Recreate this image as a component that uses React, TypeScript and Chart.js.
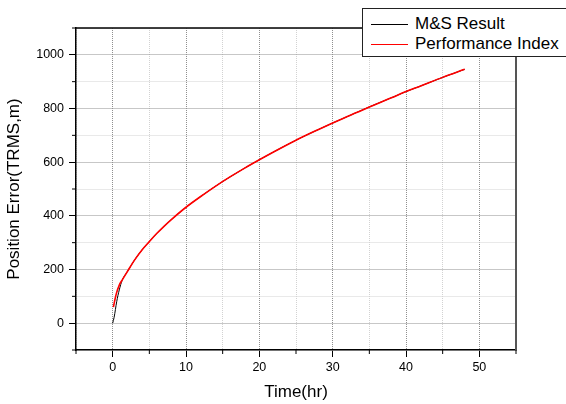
import React, { useEffect, useRef } from "react";
import { Chart, registerables } from "chart.js";

Chart.register(...registerables);

const SERIES_NAMES = ["M&S Result", "Performance Index"];
const SERIES_COLORS = ["#000000", "#ff0000"];

// M&S Result (black)
const msTime = [0, 0.2, 0.55, 0.9, 1.3, 2, 3, 4, 5, 6, 7, 8, 10, 12, 14, 16, 18, 20, 22, 25, 28, 30, 32, 35, 38, 40, 42, 45, 48];
const msError = [0, 22, 80, 124, 160, 192, 236, 273, 304, 334, 361, 386, 432, 472, 510, 545, 578, 609, 639, 682, 721, 746, 770, 806, 840, 863, 884, 916, 946];

// Performance Index (red)
const piTime = [0.1, 0.25, 0.5, 0.9, 1.35, 2, 3, 4, 5, 6, 7, 8, 10, 12, 14, 16, 18, 20, 22, 25, 28, 30, 32, 35, 38, 40, 42, 45, 48];
const piError = [60, 80, 110, 142, 163, 192, 236, 273, 304, 334, 361, 386, 432, 472, 510, 545, 578, 609, 639, 682, 721, 746, 770, 806, 840, 863, 884, 916, 946];

const xTickLabels = [0, 10, 20, 30, 40, 50];
const yTickLabels = [0, 200, 400, 600, 800, 1000];

const X_TITLE = "Time(hr)";
const Y_TITLE = "Position Error(TRMS,m)";

const FONT = "'Liberation Sans', Arial, sans-serif";

const framePlugin = {
  id: "frameAndMinorTicks",
  afterDraw(chart: any) {
    const { ctx, chartArea, scales } = chart;
    const { left, right, top, bottom } = chartArea;
    const line = (x1: number, y1: number, x2: number, y2: number) => {
      ctx.beginPath();
      ctx.moveTo(x1, y1);
      ctx.lineTo(x2, y2);
      ctx.stroke();
    };
    ctx.save();
    ctx.strokeStyle = "#000";
    ctx.lineWidth = 1;
    scales.x.ticks.forEach((t: any) => {
      if (!xTickLabels.includes(t.value)) {
        const px = scales.x.getPixelForValue(t.value);
        line(px, bottom, px, bottom + 4);
      }
    });
    scales.y.ticks.forEach((t: any) => {
      if (!yTickLabels.includes(t.value)) {
        const py = scales.y.getPixelForValue(t.value);
        line(left - 4, py, left, py);
      }
    });
    ctx.strokeStyle = "#000";
    ctx.lineWidth = 1.5;
    line(left, top, right, top);
    ctx.strokeStyle = "#555";
    ctx.lineWidth = 2;
    line(right, top, right, bottom);
    ctx.restore();
  },
};

export default function App() {
  const canvasRef = useRef<HTMLCanvasElement | null>(null);

  useEffect(() => {
    document.body.style.margin = "0";
    const canvas = canvasRef.current;
    if (!canvas) return;
    const chart = new Chart(canvas, {
      type: "line",
      data: {
        datasets: [
          {
            label: SERIES_NAMES[1],
            data: piTime.map((t, i) => ({ x: t, y: piError[i] })),
            borderColor: SERIES_COLORS[1],
            borderWidth: 1.6,
            pointRadius: 0,
            cubicInterpolationMode: "monotone",
            order: 0,
          },
          {
            label: SERIES_NAMES[0],
            data: msTime.map((t, i) => ({ x: t, y: msError[i] })),
            borderColor: SERIES_COLORS[0],
            borderWidth: 1,
            pointRadius: 0,
            cubicInterpolationMode: "monotone",
            order: 1,
          },
        ],
      },
      options: {
        responsive: false,
        animation: false,
        devicePixelRatio: 1,
        layout: { padding: { top: 28, right: 50, left: 0, bottom: 0 } },
        plugins: { legend: { display: false }, tooltip: { enabled: false } },
        scales: {
          x: {
            type: "linear",
            min: -5,
            max: 55,
            afterFit: (s: any) => {
              s.height = 54;
            },
            ticks: {
              stepSize: 5,
              autoSkip: false,
              maxRotation: 0,
              padding: 3,
              color: "#000",
              font: { family: FONT, size: 12.5 },
              callback: (v: any) => (xTickLabels.includes(Number(v)) ? String(v) : ""),
            },
            grid: {
              color: (c: any) => (xTickLabels.includes(c.tick?.value) ? "#8f8f8f" : "#d2d2d2"),
              lineWidth: 1,
              tickLength: 7,
              tickColor: (c: any) => (xTickLabels.includes(c.tick?.value) ? "#000" : "rgba(0,0,0,0)"),
            },
            border: { color: "#000", width: 1.5, dash: [1, 1] },
            title: {
              display: true,
              text: X_TITLE,
              color: "#000",
              font: { family: FONT, size: 17 },
              padding: { top: 0, bottom: 1 },
            },
          },
          y: {
            type: "linear",
            min: -100,
            max: 1100,
            afterFit: (s: any) => {
              s.width = 76;
            },
            ticks: {
              stepSize: 100,
              autoSkip: false,
              padding: 5,
              color: "#000",
              font: { family: FONT, size: 12.5 },
              callback: (v: any) => (yTickLabels.includes(Number(v)) ? String(v) : ""),
            },
            grid: {
              color: (c: any) => (yTickLabels.includes(c.tick?.value) ? "#8f8f8f" : "#d2d2d2"),
              lineWidth: 1,
              tickLength: 7,
              tickColor: (c: any) => (yTickLabels.includes(c.tick?.value) ? "#000" : "rgba(0,0,0,0)"),
            },
            border: { color: "#000", width: 1.5, dash: [1, 1] },
            title: {
              display: true,
              text: Y_TITLE,
              color: "#000",
              font: { family: FONT, size: 17 },
              padding: { top: 4, bottom: 0 },
            },
          },
        },
      },
      plugins: [framePlugin],
    } as any);
    return () => chart.destroy();
  }, []);

  const legendRow = (i: number, top: number) => (
    <div
      key={i}
      style={{ position: "absolute", left: 0, top, height: 20, display: "flex", alignItems: "center" }}
    >
      <div style={{ width: 37, height: 0, borderTop: `1px solid ${SERIES_COLORS[i]}`, marginLeft: 8 }} />
      <span style={{ marginLeft: 7, fontFamily: FONT, fontSize: 17, color: "#000", whiteSpace: "nowrap" }}>
        {SERIES_NAMES[i]}
      </span>
    </div>
  );

  return (
    <div style={{ position: "fixed", left: 0, top: 0, width: 566, height: 404, overflow: "hidden", background: "#fff" }}>
      <canvas ref={canvasRef} width={566} height={404} style={{ width: 566, height: 404, display: "block" }} />
      <div
        style={{
          position: "absolute",
          left: 362,
          top: 8,
          width: 220,
          height: 49,
          border: "1px solid #222",
          background: "#fff",
          boxSizing: "border-box",
        }}
      >
        {legendRow(0, 5)}
        {legendRow(1, 25)}
      </div>
    </div>
  );
}
